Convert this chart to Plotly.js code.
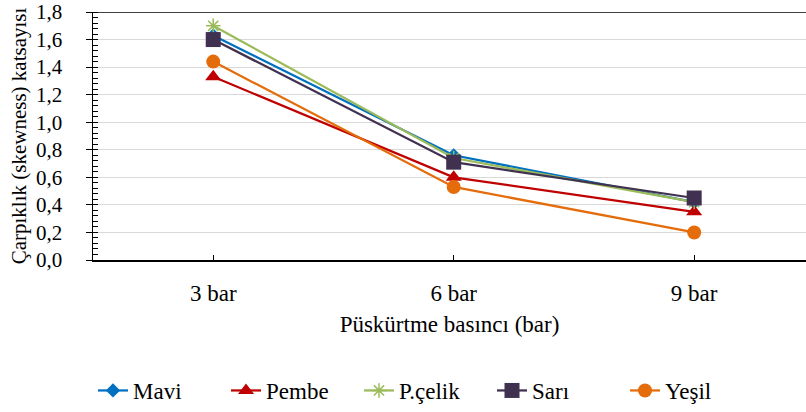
<!DOCTYPE html>
<html>
<head>
<meta charset="utf-8">
<script src="https://cdn.plot.ly/plotly-3.0.1.min.js"></script>
<style>html,body{margin:0;padding:0;background:#fff;}#chart{width:806px;height:412px;}</style>
</head>
<body>
<div id="chart"></div>
<script>
const categories = ['3 bar', '6 bar', '9 bar'];
const seriesNames = ['Mavi', 'Pembe', 'P.çelik', 'Sarı', 'Yeşil'];
const mavi = [1.63, 0.76, 0.42];
const pembe = [1.33, 0.60, 0.35];
const pcelik = [1.70, 0.74, 0.42];
const sari = [1.60, 0.71, 0.45];
const yesil = [1.44, 0.53, 0.20];
const yTickVals = [0, 0.2, 0.4, 0.6, 0.8, 1.0, 1.2, 1.4, 1.6, 1.8];
const yTickText = ['0,0', '0,2', '0,4', '0,6', '0,8', '1,0', '1,2', '1,4', '1,6', '1,8'];

const FONT = '"Liberation Serif", "Times New Roman", serif';
const xIdx = categories.map((c, i) => i);

function tr(name, y, color, symbol, size, mline) {
  return {
    type: 'scatter', mode: 'lines+markers', name: name,
    x: xIdx, y: y,
    line: {color: color, width: 2.25},
    marker: Object.assign({symbol: symbol, size: size, color: color}, mline ? {line: mline} : {})
  };
}

const data = [
  tr(seriesNames[0], mavi, '#0070C0', 'diamond', 11),
  tr(seriesNames[1], pembe, '#C00000', 'triangle-up', 14),
  tr(seriesNames[2], pcelik, '#9BBB59', 'asterisk-open', 12, {color: '#404040', width: 1.5}),
  tr(seriesNames[3], sari, '#403151', 'square', 15),
  tr(seriesNames[4], yesil, '#E46C0A', 'circle', 14)
];

const layout = {
  width: 806, height: 412,
  margin: {l: 93, r: 0, t: 12, b: 151},
  paper_bgcolor: '#fff', plot_bgcolor: '#fff',
  font: {family: FONT, size: 21, color: '#000'},
  showlegend: true,
  legend: {orientation: 'h', x: 0, xanchor: 'left', y: -0.526, yanchor: 'middle',
           font: {family: FONT, size: 23, color: '#000'}, itemwidth: 30,
           entrywidth: 88, entrywidthmode: 'pixels'},
  xaxis: {
    range: [-0.5, 2.465], tickmode: 'array', tickvals: xIdx, ticktext: categories,
    showgrid: false, zeroline: false, showline: true, linecolor: '#000', linewidth: 1.5,
    ticks: 'inside', ticklen: 5, tickcolor: '#000', tickwidth: 1,
    ticklabelstandoff: 12,
    tickfont: {family: FONT, size: 23, color: '#000'},
    title: {text: 'Püskürtme basıncı (bar)', font: {family: FONT, size: 23, color: '#000'}, standoff: 11}
  },
  yaxis: {
    range: [0, 1.8], tickmode: 'array', tickvals: yTickVals, ticktext: yTickText,
    showgrid: true, gridcolor: '#D9D9D9', gridwidth: 1,
    zeroline: false, showline: true, linecolor: '#000', linewidth: 1.5,
    ticks: 'outside', ticklen: 6, tickcolor: '#000', tickwidth: 1,
    ticklabelstandoff: 19,
    minor: {ticks: 'inside', ticklen: 5, tickcolor: '#000', tickwidth: 1, dtick: 0.04, tick0: 0, showgrid: false},
    tickfont: {family: FONT, size: 21, color: '#000'},
    title: {text: 'Çarpıklık (skewness) katsayısı', font: {family: FONT, size: 21, color: '#000'}, standoff: 3}
  },
  shapes: [{type: 'line', xref: 'paper', yref: 'y', x0: 0, x1: 1, y0: 1.8, y1: 1.8,
            line: {color: '#000', width: 1.5}, layer: 'above'}]
};

Plotly.newPlot('chart', data, layout, {displayModeBar: false, staticPlot: true});
</script>
</body>
</html>
